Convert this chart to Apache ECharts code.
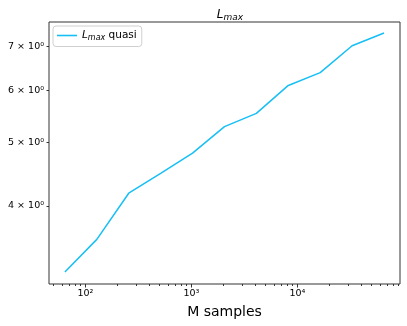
<!DOCTYPE html>
<html>
<head>
<meta charset="utf-8">
<script src="https://cdn.jsdelivr.net/npm/echarts@6/dist/echarts.min.js"></script>
<style>
  html, body { margin: 0; padding: 0; background: #fff; }
  #main { width: 407px; height: 326px; }
</style>
</head>
<body>
<div id="main"></div>
<script>
// M samples (x) and L_max (y)
var samples = [64, 128, 256, 512, 1024, 2048, 4096, 8192, 16384, 32768, 65536];
var lmaxQuasi = [3.17, 3.555, 4.18, 4.48, 4.81, 5.28, 5.53, 6.10, 6.38, 7.01, 7.33];

var xMajorTicks = [100, 1000, 10000];
var xMinorTicks = [50, 60, 70, 80, 90, 200, 300, 400, 500, 600, 700, 800, 900,
  2000, 3000, 4000, 5000, 6000, 7000, 8000, 9000,
  20000, 30000, 40000, 50000, 60000, 70000, 80000, 90000];
var yTicks = [4, 5, 6, 7];

var sup = { '0': '⁰', '1': '¹', '2': '²', '3': '³', '4': '⁴', '5': '⁵' };
function pow10Label (v) {
  var e = String(Math.round(Math.log10(v)));
  return '10' + e.split('').map(function (c) { return sup[c]; }).join('');
}

var font = 'DejaVu Sans';
var lineColor = '#17bff5';
var frameColor = '#333';

var chart = echarts.init(document.getElementById('main'));
chart.setOption({
  animation: false,
  backgroundColor: '#fff',
  textStyle: { fontFamily: font },
  title: {
    text: '{l|L}{s|max}',
    left: 225, top: 3, textAlign: 'center',
    textStyle: {
      fontWeight: 'normal',
      rich: {
        l: { fontFamily: font, fontStyle: 'italic', fontWeight: 'normal', fontSize: 12, color: '#000' },
        s: { fontFamily: font, fontStyle: 'italic', fontWeight: 'normal', fontSize: 9, color: '#000', padding: [5, 0, 0, 0] }
      }
    }
  },
  legend: {
    left: 53, top: 26,
    padding: [4, 5, 5, 4],
    itemWidth: 20, itemHeight: 10, itemGap: 4,
    backgroundColor: '#fff',
    borderColor: '#d0d0d0', borderWidth: 1, borderRadius: 3,
    icon: 'path://M0,4.2 L20,4.2 L20,5.8 L0,5.8 Z',
    data: [{ name: 'quasi', itemStyle: { color: lineColor } }],
    formatter: function () { return '{l|L}{s|max}{t| quasi}'; },
    textStyle: {
      rich: {
        l: { fontFamily: font, fontStyle: 'italic', fontSize: 10.5, color: '#000' },
        s: { fontFamily: font, fontStyle: 'italic', fontSize: 8, color: '#000', padding: [4, 0, 0, 0] },
        t: { fontFamily: font, fontSize: 10.5, color: '#000' }
      }
    }
  },
  grid: {
    left: 49, right: 7, top: 22, bottom: 42,
    outerBoundsMode: 'none',
    show: true, borderColor: frameColor, borderWidth: 1
  },
  xAxis: [{
    type: 'log',
    min: 45.3, max: 92700,
    name: 'M samples', nameLocation: 'middle', nameGap: 21,
    nameTextStyle: { fontFamily: font, fontSize: 14, color: '#000' },
    axisLine: { show: false },
    splitLine: { show: false },
    axisTick: { show: true, length: 3.5, lineStyle: { color: frameColor }, customValues: xMajorTicks },
    axisLabel: {
      customValues: xMajorTicks, margin: 5,
      fontFamily: font, fontSize: 9.5, color: '#000',
      formatter: pow10Label
    }
  }, {
    type: 'log',
    min: 45.3, max: 92700,
    position: 'bottom',
    axisLine: { show: false },
    splitLine: { show: false },
    axisTick: { show: true, length: 2, lineStyle: { color: frameColor }, customValues: xMinorTicks },
    axisLabel: { show: false }
  }],
  yAxis: {
    type: 'log',
    min: 3.04, max: 7.62,
    axisLine: { show: false },
    splitLine: { show: false },
    axisTick: { show: true, length: 2.5, lineStyle: { color: frameColor }, customValues: yTicks },
    axisLabel: {
      customValues: yTicks, margin: 5,
      fontFamily: font, fontSize: 9.5, color: '#000',
      formatter: function (v) { return Math.round(v) + ' × 10⁰'; }
    }
  },
  series: [{
    name: 'quasi',
    type: 'line',
    xAxisIndex: 0,
    data: samples.map(function (x, i) { return [x, lmaxQuasi[i]]; }),
    showSymbol: false,
    lineStyle: { color: lineColor, width: 1.5 },
    itemStyle: { color: lineColor }
  }]
});
</script>
</body>
</html>
